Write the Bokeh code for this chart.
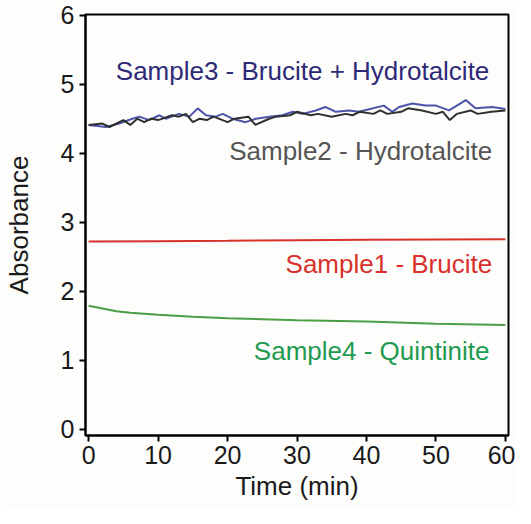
from bokeh.plotting import figure
from bokeh.models import Range1d, FixedTicker, Label
from bokeh.embed import file_html
from bokeh.resources import INLINE

# Data
t_s2 = [0, 2, 3, 5, 6, 7, 8, 9, 10, 12, 13, 14, 15, 16, 17, 18, 20, 21, 23, 24, 26, 27, 29, 30, 32, 33, 35, 37, 38, 39, 41, 42, 43, 45, 46, 48, 50, 51, 52, 53, 55, 56, 58, 60]
a_s2 = [4.41, 4.43, 4.38, 4.48, 4.41, 4.50, 4.45, 4.50, 4.48, 4.55, 4.53, 4.57, 4.45, 4.50, 4.48, 4.53, 4.45, 4.50, 4.53, 4.41, 4.50, 4.53, 4.55, 4.60, 4.55, 4.57, 4.53, 4.57, 4.55, 4.60, 4.57, 4.62, 4.57, 4.60, 4.65, 4.62, 4.57, 4.60, 4.48, 4.57, 4.62, 4.57, 4.60, 4.62]
t_s3 = [0, 2.5, 4.4, 6.3, 7.3, 8.7, 10.2, 11.1, 13, 14.5, 15.7, 16.9, 18.3, 19.3, 20.7, 22.6, 24.1, 26, 27.9, 29.4, 30.8, 32.7, 34.1, 35.6, 37.5, 38.9, 42.5, 43.7, 44.7, 46.6, 48.5, 50, 51.9, 54.3, 55.7, 58.1, 60]
a_s3 = [4.41, 4.38, 4.43, 4.50, 4.53, 4.48, 4.55, 4.50, 4.57, 4.53, 4.65, 4.55, 4.53, 4.57, 4.50, 4.45, 4.50, 4.53, 4.55, 4.60, 4.57, 4.62, 4.67, 4.60, 4.62, 4.60, 4.69, 4.60, 4.67, 4.72, 4.69, 4.69, 4.62, 4.77, 4.65, 4.67, 4.64]
t_s1 = [0, 10, 20, 30, 40, 50, 60]
a_s1 = [2.72, 2.725, 2.73, 2.74, 2.745, 2.75, 2.755]
t_s4 = [0, 2, 4, 6, 10, 15, 20, 30, 40, 50, 60]
a_s4 = [1.79, 1.75, 1.71, 1.69, 1.66, 1.63, 1.61, 1.58, 1.56, 1.53, 1.51]
x_ticks = [0, 10, 20, 30, 40, 50, 60]
y_ticks = [0, 1, 2, 3, 4, 5, 6]

FONT = "Liberation Sans"

p = figure(width=515, height=508, output_backend="svg", toolbar_location=None,
           x_range=Range1d(-0.45, 60.45), y_range=Range1d(-0.09, 6.01),
           min_border_left=85, min_border_right=7, min_border_top=14, min_border_bottom=73)
p.background_fill_color = "#fdfdfb"
p.border_fill_color = "#fdfdfb"
p.grid.visible = False
p.outline_line_color = "black"
p.outline_line_width = 2

for ax in (p.xaxis, p.yaxis):
    ax.axis_line_width = 2
    ax.major_tick_line_width = 2
    ax.major_tick_out = 6
    ax.major_tick_in = 0
    ax.minor_tick_line_color = None
    ax.major_label_text_font = FONT
    ax.major_label_text_font_size = "25px"
    ax.major_label_text_color = "#1a1a1a"
    ax.axis_label_text_font = FONT
    ax.axis_label_text_font_size = "26px"
    ax.axis_label_text_font_style = "normal"
    ax.axis_label_text_color = "#1a1a1a"

p.xaxis.ticker = FixedTicker(ticks=x_ticks)
p.yaxis.ticker = FixedTicker(ticks=y_ticks)
p.xaxis.axis_label = "Time (min)"
p.yaxis.axis_label = "Absorbance"
p.xaxis.major_label_standoff = 4
p.yaxis.major_label_standoff = 5
p.xaxis.axis_label_standoff = 4
p.yaxis.axis_label_standoff = 24

p.line(t_s1, a_s1, line_color="#d8312c", line_width=2)
p.line(t_s4, a_s4, line_color="#4a9e45", line_width=2)
p.line(t_s3, a_s3, line_color="#4b54a8", line_width=2)
p.line(t_s2, a_s2, line_color="#2f2f2f", line_width=2)

labels = [
    ("Sample3 - Brucite + Hydrotalcite", 30.8, 5.19, "center", "#2e2a78"),
    ("Sample2 - Hydrotalcite", 58.1, 4.03, "right", "#555555"),
    ("Sample1 - Brucite", 58.1, 2.40, "right", "#d8312c"),
    ("Sample4 - Quintinite", 57.7, 1.13, "right", "#1f9a50"),
]
for txt, x, y, align, col in labels:
    p.add_layout(Label(x=x, y=y, text=txt, text_align=align, text_baseline="middle",
                       text_font=FONT, text_font_size="26px", text_color=col))

open("out.html", "w").write(file_html(p, INLINE))
